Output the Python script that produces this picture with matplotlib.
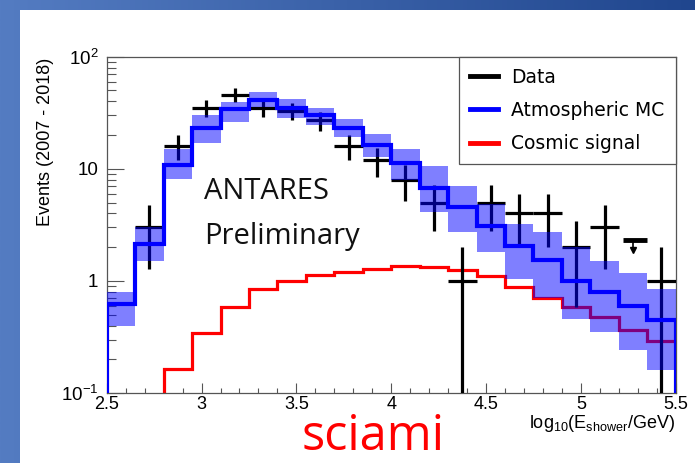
import numpy as np
import matplotlib
matplotlib.use("Agg")
import matplotlib.pyplot as plt
from matplotlib.lines import Line2D
from matplotlib.patches import Rectangle
from matplotlib.ticker import FixedLocator, FixedFormatter, MultipleLocator, FormatStrFormatter

plt.rcParams['font.family'] = ['Liberation Sans', 'DejaVu Sans']
plt.rcParams['mathtext.fontset'] = 'custom'
plt.rcParams['mathtext.rm'] = 'Liberation Sans'
plt.rcParams['mathtext.it'] = 'Liberation Sans:italic'
plt.rcParams['mathtext.default'] = 'regular'

# bin edges in log10(E/GeV)
edges = np.array([2.5, 2.65, 2.8, 2.95, 3.1, 3.25, 3.4, 3.55, 3.7, 3.85, 4.0,
                  4.15, 4.3, 4.45, 4.6, 4.75, 4.9, 5.05, 5.2, 5.35, 5.5])

# atmospheric MC expectation and its uncertainty band
mc = np.array([0.62, 2.13, 10.9, 23.2, 33.9, 41.0, 34.6, 30.2, 23.2, 16.3,
               11.2, 6.8, 4.6, 3.1, 2.04, 1.53, 1.0, 0.80, 0.60, 0.45])
mc_hi = np.array([0.80, 3.03, 14.9, 30.0, 39.6, 48.7, 41.6, 35.0, 27.8, 20.4,
                  14.9, 10.6, 7.05, 4.9, 3.25, 2.74, 1.99, 1.51, 1.17, 0.84])
mc_lo = np.array([0.40, 1.51, 8.1, 17.0, 26.3, 35.8, 28.2, 24.6, 19.3, 12.8,
                  7.9, 4.1, 2.74, 1.82, 1.05, 0.70, 0.46, 0.35, 0.24, 0.16])

# cosmic signal expectation
signal = np.array([0, 0, 0.165, 0.34, 0.58, 0.84, 1.0, 1.13, 1.21, 1.28,
                   1.35, 1.34, 1.26, 1.10, 0.885, 0.71, 0.586, 0.477, 0.368, 0.29])

# observed events (nan = empty bin / upper limit)
data = np.array([np.nan, 3, 16, 35, 46, 35, 33, 27, 16, 12,
                 8, 5, 1, 5, 4, 4, 2, 3, np.nan, 1])
ul_bin = 18
ul_value = 2.3

ytick_vals = [0.1, 1, 10, 100]
ytick_labels = ['$10^{-1}$', '1', '10', '$10^{2}$']

W, H = 695, 463
fig = plt.figure(figsize=(W / 100, H / 100), dpi=100)

# slide background: blue gradient strip with white page on top
bg = fig.add_axes([0, 0, 1, 1], zorder=-10)
grad = np.linspace(0, 1, 256)
c0 = np.array([84, 124, 194]) / 255
c1 = np.array([32, 70, 142]) / 255
img = (c0[None, :] * (1 - grad[:, None]) + c1[None, :] * grad[:, None])[None, :, :]
bg.imshow(img, extent=[0, 1, 0, 1], aspect='auto', transform=bg.transAxes)
bg.add_patch(Rectangle((20 / W, 0), 1, 1 - 10 / H, transform=bg.transAxes,
                       facecolor='white', edgecolor='none'))
bg.set_xlim(0, 1)
bg.set_ylim(0, 1)
bg.axis('off')

ax = fig.add_axes([106.7 / W, 1 - 393 / H, 569 / W, 336.3 / H])
ax.set_yscale('log')

centers = 0.5 * (edges[:-1] + edges[1:])

# signal histogram
ax.stairs(signal, edges, color='red', lw=2.3, zorder=2)

# data points with Poisson errors
ok = ~np.isnan(data)
err = np.sqrt(data[ok])
ax.hlines(data[ok], edges[:-1][ok], edges[1:][ok], color='black', lw=2.3, zorder=3)
ax.vlines(centers[ok], np.maximum(data[ok] - err, 1e-3), data[ok] + err,
          color='black', lw=2.3, zorder=3)

# upper limit
ax.hlines(ul_value, edges[ul_bin] + 0.02, edges[ul_bin + 1], color='black', lw=3.5, zorder=3)
ax.vlines(centers[ul_bin], ul_value * 0.86, ul_value, color='black', lw=1.2, zorder=3)
ax.plot(centers[ul_bin], ul_value * 0.82, marker='v', color='black', ms=5, zorder=3)

# MC band and central value
ax.stairs(mc_hi, edges, baseline=mc_lo, fill=True, color='blue', alpha=0.5, lw=0, zorder=4)
ax.stairs(mc, edges, color='blue', lw=3.0, zorder=5)

ax.set_xlim(2.5, 5.5)
ax.set_ylim(0.1, 100)

ax.xaxis.set_major_locator(MultipleLocator(0.5))
ax.xaxis.set_minor_locator(MultipleLocator(0.1))
ax.xaxis.set_major_formatter(FormatStrFormatter('%g'))
ax.yaxis.set_major_locator(FixedLocator(ytick_vals))
ax.yaxis.set_major_formatter(FixedFormatter(ytick_labels))
ax.yaxis.set_minor_locator(matplotlib.ticker.LogLocator(base=10, subs=np.arange(2, 10)))
ax.yaxis.set_minor_formatter(matplotlib.ticker.NullFormatter())

tick_col = '#555555'
ax.tick_params(axis='x', which='major', direction='in', length=7.5, width=0.8,
               color=tick_col, labelsize=13, pad=2.5)
ax.tick_params(axis='x', which='minor', direction='in', length=3.8, width=0.8, color=tick_col)
ax.tick_params(axis='y', which='major', direction='in', length=12.5, width=0.8,
               color=tick_col, labelsize=13.5, pad=6)
ax.tick_params(axis='y', which='minor', direction='in', length=6.5, width=0.8, color=tick_col)
for s in ax.spines.values():
    s.set_color(tick_col)
    s.set_linewidth(0.9)

handles = [Line2D([], [], color='black', lw=3.5),
           Line2D([], [], color='blue', lw=3.5),
           Line2D([], [], color='red', lw=3.5)]
leg = ax.legend(handles, ['Data', 'Atmospheric MC', 'Cosmic signal'],
                loc='upper right', borderaxespad=0, fancybox=False,
                edgecolor='#555555', framealpha=1, handlelength=1.5,
                handletextpad=0.7, labelspacing=0.75, borderpad=0.6,
                prop={'family': 'DejaVu Sans', 'size': 13.5})
leg.get_frame().set_linewidth(0.9)
leg.set_zorder(10)

fig.text(46 / W, 1 - 142 / H, 'Events (2007 - 2018)', rotation=90,
         ha='center', va='center', fontsize=13)
fig.text(675 / W, 1 - 428 / H, r'log$_{10}$(E$_{shower}$/GeV)',
         ha='right', va='baseline', fontsize=13)

fig.text(204 / W, 1 - 199 / H, 'ANTARES', family='Open Sans', fontsize=21,
         ha='left', va='baseline', color='#111111')
fig.text(204 / W, 1 - 244 / H, 'Preliminary', family='Open Sans', fontsize=21,
         ha='left', va='baseline', color='#111111')
fig.text(373 / W, 1 - 450 / H, 'sciami', family='Open Sans', fontsize=35,
         ha='center', va='baseline', color='red')

fig.savefig('out.png', dpi=100)
